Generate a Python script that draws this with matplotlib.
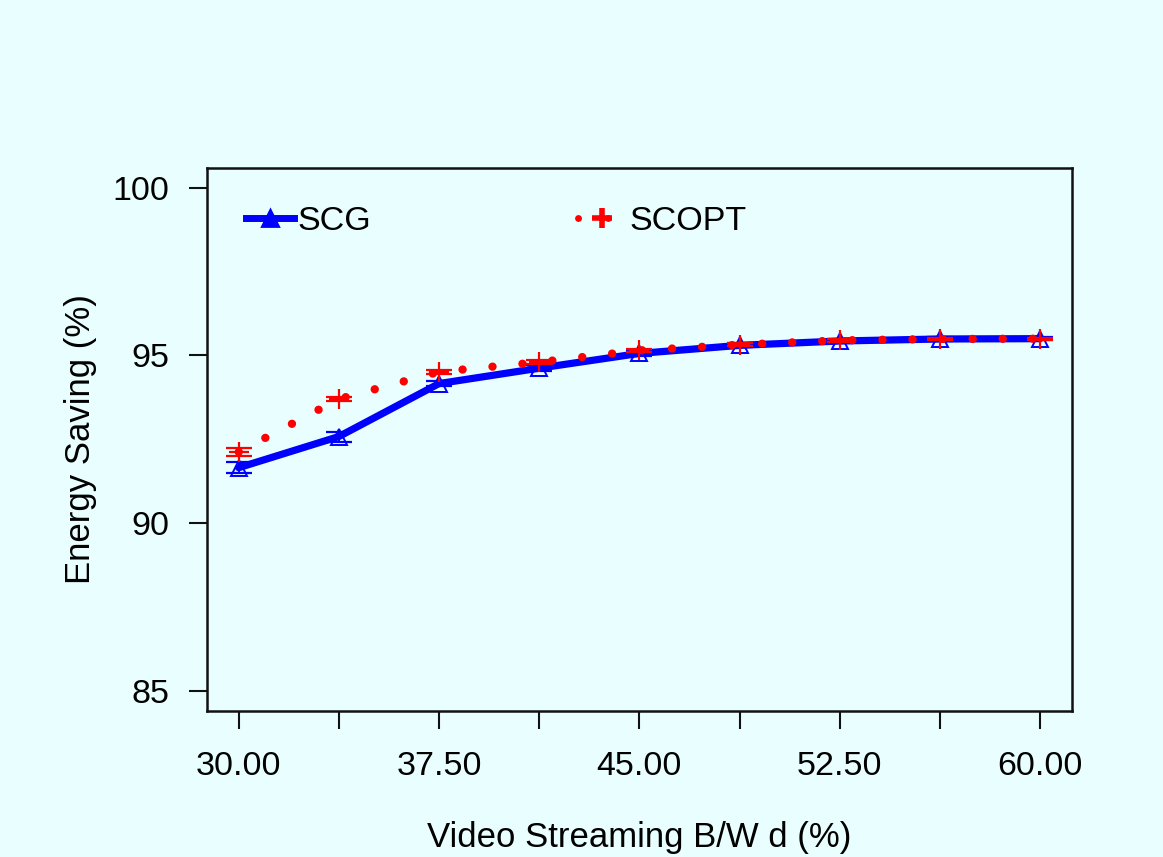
import matplotlib
matplotlib.use("Agg")
import matplotlib.pyplot as plt
from matplotlib.lines import Line2D
import numpy as np

plt.rcParams['font.family'] = ['Liberation Sans', 'DejaVu Sans']

# bandwidth share (%) and energy saving (%) per scheme
bw = [30.0, 33.75, 37.5, 41.25, 45.0, 48.75, 52.5, 56.25, 60.0]
scg = [91.65, 92.58, 94.16, 94.62, 95.06, 95.30, 95.43, 95.49, 95.50]
scg_err = [0.16, 0.15, 0.08, 0.08, 0.07, 0.06, 0.06, 0.05, 0.05]
scopt = [92.12, 93.70, 94.51, 94.80, 95.15, 95.32, 95.45, 95.49, 95.50]
scopt_err = [0.12, 0.05, 0.06, 0.05, 0.05, 0.04, 0.04, 0.03, 0.03]
xlabels_at = [30.0, 37.5, 45.0, 52.5, 60.0]

bg = '#E9FFFF'
fig = plt.figure(figsize=(11.63, 8.57), dpi=100, facecolor=bg)
ax = fig.add_axes([0.1777, 0.1707, 0.9218 - 0.1777, 0.8043 - 0.1707], facecolor=bg)

# SCG: thick solid line, open triangles, error bars
ax.errorbar(bw, scg, yerr=scg_err, fmt='none', ecolor='blue', elinewidth=1.4,
            capsize=9.5, capthick=1.6, zorder=3)
ax.plot(bw, scg, color='blue', linewidth=5.2, solid_capstyle='round', zorder=2)
ax.plot(bw, scg, linestyle='none', marker='^', markersize=11, markerfacecolor='none',
        markeredgecolor='blue', markeredgewidth=1.4, zorder=4)

# SCOPT: dotted line, plus markers, error bars
ax.errorbar(bw, scopt, yerr=scopt_err, fmt='none', ecolor='red', elinewidth=1.4,
            capsize=9.5, capthick=1.6, zorder=5)
ax.plot(bw, scopt, color='red', linewidth=6.0, linestyle=(0, (0.01, 3.6)),
        dash_capstyle='round', zorder=5)
ax.plot(bw, scopt, linestyle='none', marker='+', markersize=14,
        markeredgecolor='red', markeredgewidth=1.6, zorder=6)

ax.set_xlim(28.8, 61.2)
ax.set_ylim(84.4, 100.6)
ax.set_xticks(bw)
ax.set_xticklabels(['%.2f' % v if v in xlabels_at else '' for v in bw])
ax.set_yticks([85, 90, 95, 100])

for s in ax.spines.values():
    s.set_linewidth(1.8)
    s.set_color('#111111')
ax.tick_params(axis='both', direction='out', length=13, width=1.5, color='#111111',
               labelsize=24.5, pad=14)
ax.tick_params(axis='x', pad=16)

ax.set_xlabel('Video Streaming B/W d (%)', fontsize=25, labelpad=28)
ax.set_ylabel('Energy Saving (%)', fontsize=25, labelpad=11)

handles = [
    Line2D([], [], color='blue', linewidth=5, marker='^', markersize=11,
           markerfacecolor='blue', markeredgecolor='blue', markeredgewidth=2),
    Line2D([], [], color='red', linewidth=5, linestyle=(0, (0.01, 4.3)),
           dash_capstyle='round', marker='+', markersize=14,
           markeredgecolor='red', markeredgewidth=4),
]
ax.legend(handles, ['SCG', 'SCOPT'], loc='upper left', bbox_to_anchor=(0.03, 0.955),
          ncol=2, frameon=False, fontsize=24.5, handlelength=1.4, handletextpad=0.1,
          columnspacing=6.1, borderaxespad=0)

fig.savefig('out.png', dpi=100, facecolor=bg)
